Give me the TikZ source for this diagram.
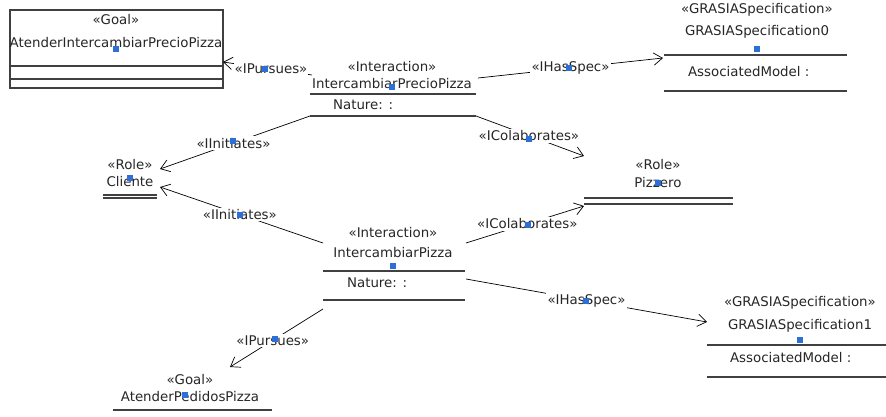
\documentclass[tikz,border=0pt]{standalone}
\usepackage{fontspec}
\setmainfont{DejaVu Sans}
\usetikzlibrary{arrows.meta}
\definecolor{selblue}{RGB}{45,110,215}
\newcommand{\handleat}[2]{\fill[selblue] (#1-3,#2-3) rectangle (#1+3,#2+3);}

\begin{document}
\begin{tikzpicture}[
      x=0.02cm, y=-0.02cm,
      every node/.style={font=\fontsize{7.6}{9}\selectfont, text=black!85, inner sep=1pt},
      pointer/.style={draw=black, -{Straight Barb[length=5pt,width=7pt]}},
      rel/.style={fill=white, inner sep=1pt},
      sep/.style={draw=black!75, line width=0.6pt},
      ]
  \useasboundingbox (0,0) rectangle (886,416);

  % goal pursued by the first interaction
  \draw[sep] (10,10) rectangle (223,88);
  \draw[sep] (10,66) -- (223,66) (10,79) -- (223,79);
  \node (goal1st) at (116,20) {«Goal»};
  \node (goal1) at (116,43) {AtenderIntercambiarPrecioPizza};
  \handleat{116}{49}

  % first interaction
  \node (int1st) at (392,67) {«Interaction»};
  \node (int1) at (392,84) {IntercambiarPrecioPizza};
  \draw[sep] (310,94) -- (476,94) (310,116) -- (476,116);
  \node[anchor=west] (int1nat) at (331,105) {Nature: :};
  \handleat{392}{87}
  \coordinate (int1w) at (312,75);
  \coordinate (int1e) at (478,78);
  \coordinate (int1sw) at (310,116);
  \coordinate (int1se) at (476,116);

  % spec 0
  \node (spec0st) at (757,10) {«GRASIASpecification»};
  \node (spec0) at (757,32) {GRASIASpecification0};
  \draw[sep] (664,55) -- (847,55) (664,91) -- (847,91);
  \node[anchor=west] (spec0mod) at (686,72) {AssociatedModel :};
  \handleat{757}{49}

  % roles
  \node (clist) at (130,165) {«Role»};
  \node (cli) at (130,182) {Cliente};
  \draw[sep] (103,195) -- (157,195) (103,198) -- (157,198);
  \handleat{130}{178}
  \node (pizst) at (658,165) {«Role»};
  \node (piz) at (658,183) {Pizzero};
  \draw[sep] (584,198) -- (733,198) (584,204) -- (733,204);
  \handleat{658}{183}

  % second interaction
  \node (int2st) at (393,233) {«Interaction»};
  \node (int2) at (393,253) {IntercambiarPizza};
  \draw[sep] (323,271) -- (465,271) (323,300) -- (465,300);
  \node[anchor=west] (int2nat) at (345,283) {Nature: :};
  \handleat{393}{266}
  \coordinate (int2w) at (323,243);
  \coordinate (int2e) at (466,243);
  \coordinate (int2se) at (466,279);
  \coordinate (int2sw) at (323,309);

  % spec 1
  \node (spec1st) at (800,303) {«GRASIASpecification»};
  \node (spec1) at (800,326) {GRASIASpecification1};
  \draw[sep] (707,345) -- (886,345) (707,377) -- (886,377);
  \node[anchor=west] (spec1mod) at (728,358) {AssociatedModel :};
  \handleat{800}{340}

  % goal pursued by the second interaction
  \node (goal2st) at (190,380) {«Goal»};
  \node (goal2) at (190,397) {AtenderPedidosPizza};
  \draw[sep] (113,410) -- (272,410);
  \handleat{185}{395}

  % arrow ends
  \coordinate (goal1e) at (223,62);
  \coordinate (spec0w) at (663,58);
  \coordinate (cline) at (160,169);
  \coordinate (clise) at (160,187);
  \coordinate (pizne) at (584,156);
  \coordinate (pizse) at (584,206);
  \coordinate (spec1w) at (707,322);
  \coordinate (goal2ne) at (230,367);

  % relations
  \draw[pointer] (int1w) -- node[rel, inner xsep=0.3pt, pos=0.46] (pur1) {«IPursues»} (goal1e);
  \draw[pointer] (int1e) -- node[rel, pos=0.5] (has0) {«IHasSpec»} (spec0w);
  \draw[pointer] (int1sw) -- node[rel, pos=0.51] (ini1) {«IInitiates»} (cline);
  \draw[pointer] (int1se) -- node[rel, pos=0.49] (col1) {«IColaborates»} (pizne);
  \draw[pointer] (int2w) -- node[rel, pos=0.51] (ini2) {«IInitiates»} (clise);
  \draw[pointer] (int2e) -- node[rel, pos=0.52] (col2) {«IColaborates»} (pizse);
  \draw[pointer] (int2se) -- node[rel, pos=0.5] (has1) {«IHasSpec»} (spec1w);
  \draw[pointer] (int2sw) -- node[rel, pos=0.54] (pur2) {«IPursues»} (goal2ne);

  \handleat{265}{69}
  \handleat{569}{68}
  \handleat{233}{141}
  \handleat{529}{139}
  \handleat{240}{215}
  \handleat{528}{225}
  \handleat{586}{301}
  \handleat{275}{339}
\end{tikzpicture}
\end{document}
